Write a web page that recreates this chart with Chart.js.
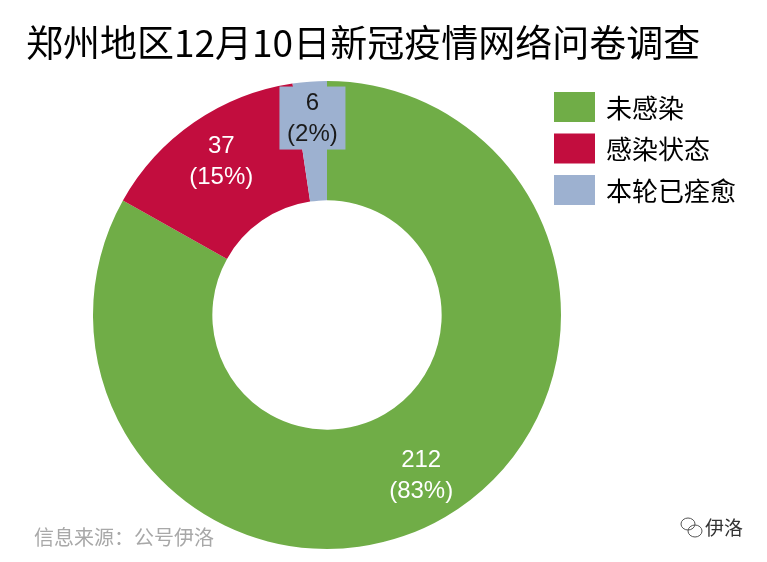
<!DOCTYPE html>
<html>
<head>
<meta charset="utf-8">
<script src="https://cdn.jsdelivr.net/npm/chart.js@4.4.0/dist/chart.umd.min.js"></script>
<style>
  html, body { margin: 0; padding: 0; background: #fff; }
  #wrap { position: relative; width: 767px; height: 562px; }
</style>
</head>
<body>
<div id="wrap"><canvas id="myChart1" width="767" height="562"></canvas></div>
<script>
const titleText = '郑州地区12月10日新冠疫情网络问卷调查';
const categories = ['未感染', '感染状态', '本轮已痊愈'];
const counts = [212, 37, 6];
const sliceColors = ['#70AD47', '#C20D3E', '#9DB1D0'];
const labelColors = ['#ffffff', '#ffffff', '#1a1a1a'];
const sourceText = '信息来源：公号伊洛';
const brandText = '伊洛';

const cjk = '"Liberation Sans Narrow", "Noto Sans CJK SC", sans-serif';
const total = counts.reduce((a, b) => a + b, 0);

const extras = {
    id: 'extras',
    afterDatasetsDraw(chart) {
        const ctx = chart.ctx;
        const meta = chart.getDatasetMeta(0);
        ctx.save();
        // slice labels
        meta.data.forEach((arc, i) => {
            const share = counts[i] / total;
            const mid = (arc.startAngle + arc.endAngle) / 2;
            let r = (arc.innerRadius + arc.outerRadius) / 2 + 12;
            if (share < 0.05) r = arc.outerRadius - 37;
            const x = arc.x + Math.cos(mid) * r;
            const y = arc.y + Math.sin(mid) * r;
            if (share < 0.05) {
                ctx.fillStyle = sliceColors[i];
                ctx.fillRect(x - 33, y - 32, 66, 63);
            }
            ctx.fillStyle = labelColors[i];
            ctx.font = '24px "Liberation Sans", sans-serif';
            ctx.textAlign = 'center';
            ctx.textBaseline = 'middle';
            ctx.fillText(String(counts[i]), x, y - 15);
            ctx.fillText('(' + Math.round(share * 100) + '%)', x, y + 16);
        });
        ctx.restore();
    },
    afterDraw(chart) {
        const ctx = chart.ctx;
        ctx.save();
        // title
        ctx.fillStyle = '#000';
        ctx.font = '37px ' + cjk;
        ctx.textAlign = 'left';
        ctx.textBaseline = 'middle';
        ctx.fillText(titleText, 26, 43);
        // legend
        categories.forEach((c, i) => {
            const y = 92 + i * 41.5;
            ctx.fillStyle = sliceColors[i];
            ctx.fillRect(554, y, 41, 30);
            ctx.fillStyle = '#000';
            ctx.font = '26px ' + cjk;
            ctx.fillText(c, 606, y + 16);
        });
        // footer
        ctx.fillStyle = '#a8a8a8';
        ctx.font = '20px ' + cjk;
        ctx.fillText(sourceText, 34, 537);
        ctx.fillStyle = '#333';
        ctx.font = '19px ' + cjk;
        ctx.fillText(brandText, 705, 528);
        ctx.strokeStyle = '#555';
        ctx.lineWidth = 1;
        ctx.beginPath();
        ctx.ellipse(688, 524, 7, 6, 0, 0, Math.PI * 2);
        ctx.stroke();
        ctx.beginPath();
        ctx.ellipse(695, 531, 7, 6, 0, 0, Math.PI * 2);
        ctx.stroke();
        ctx.restore();
    }
};

const myChart1 = new Chart(document.getElementById('myChart1'), {
    type: 'doughnut',
    data: {
        labels: categories,
        datasets: [{
            data: counts,
            backgroundColor: sliceColors,
            borderWidth: 0
        }]
    },
    options: {
        responsive: false,
        animation: false,
        cutout: '49%',
        layout: { padding: { left: 93, right: 206, top: 81, bottom: 13 } },
        plugins: {
            legend: { display: false },
            tooltip: { enabled: false },
            title: { display: false }
        }
    },
    plugins: [extras]
});
</script>
</body>
</html>
